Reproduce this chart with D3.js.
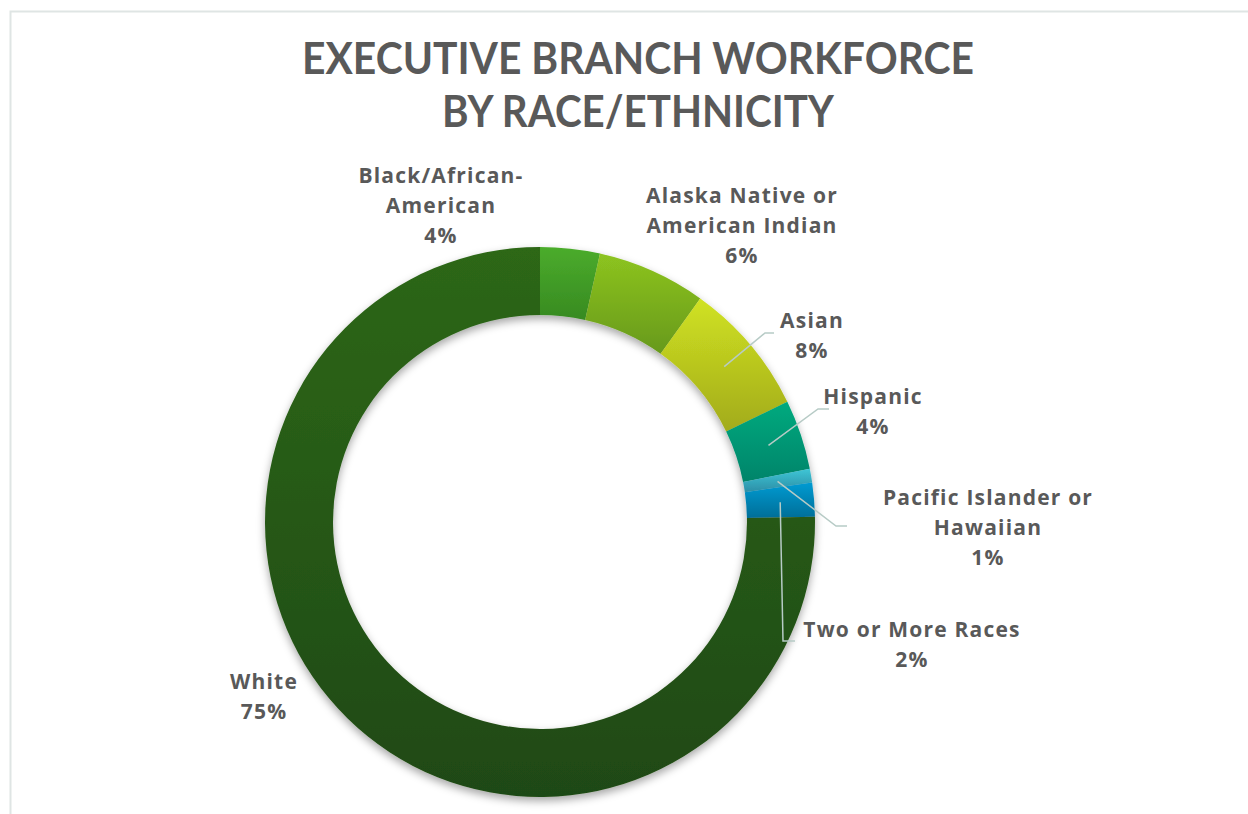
<!DOCTYPE html>
<html><head><meta charset="utf-8">
<script src="https://cdn.jsdelivr.net/npm/d3@7"></script>
<style>body{margin:0;background:#fff;overflow:hidden} svg{display:block}</style>
</head><body>
<script>
// ---- data ----
const categories = ["Black/African-American","Alaska Native or American Indian","Asian","Hispanic","Pacific Islander or Hawaiian","Two or More Races","White"];
const values = [3.5, 6.4, 7.9, 4.1, 0.8, 2.0, 75.3];
const labelLines = [["Black/African-","American"],["Alaska Native or","American Indian"],["Asian"],["Hispanic"],["Pacific Islander or","Hawaiian"],["Two or More Races"],["White"]];
const titleLines = ["EXECUTIVE BRANCH WORKFORCE","BY RACE/ETHNICITY"];

// ---- styles ----
const colorsTop    = ["#4bac2c","#8dc420","#d0e222","#00aa7e","#3ec6d6","#029bd2","#2d6719"];
const colorsBottom = ["#378a21","#67991b","#a2ab1b","#00846a","#2c8ea6","#056e98","#1f4912"];

// ---- layout ----
const W = 1248, H = 814;
const cx = 540, cy = 522, rOuter = 275, rInner = 207;
const labelAnchor = [[441,183],[742,203],[812,328],[873,404],[988,505],[912,637],[264,689]];
const leaderElbow = [null,null,[765,333],[818,409],[836,526],[783,641]];
const leaderEnd   = [null,null,[774,333],[829,409],[847,526],[795,641]];
const lineGap = 30;

const svg = d3.select("body").append("svg").attr("width", W).attr("height", H);
const defs = svg.append("defs");

const f = defs.append("filter").attr("id","shadow").attr("x","-20%").attr("y","-20%").attr("width","140%").attr("height","140%");
f.append("feDropShadow").attr("dx",0).attr("dy",4).attr("stdDeviation",4).attr("flood-color","#000").attr("flood-opacity",0.35);

categories.forEach((c,i)=>{
  const g = defs.append("linearGradient").attr("id","grad"+i).attr("x1",0).attr("y1",0).attr("x2",0).attr("y2",1);
  g.append("stop").attr("offset","0%").attr("stop-color",colorsTop[i]);
  g.append("stop").attr("offset","100%").attr("stop-color",colorsBottom[i]);
});

// frame
svg.append("rect").attr("x",10.5).attr("y",11.5).attr("width",1400).attr("height",1000)
  .attr("fill","none").attr("stroke","#dfe5e4").attr("stroke-width",2);

// title
const titleG = svg.append("g");
const titleY = [74, 127];
const titleW = [672, 392];
titleLines.forEach((t,i)=>{
  titleG.append("text").attr("x",638).attr("y",titleY[i]).attr("text-anchor","middle")
    .attr("font-family","Lato, 'Open Sans', sans-serif").attr("font-weight",700)
    .attr("font-size",43).attr("fill","#595959")
    .attr("textLength",titleW[i]).attr("lengthAdjust","spacingAndGlyphs")
    .text(t);
});

// donut
const pie = d3.pie().sort(null).value(d=>d);
const arcs = pie(values);
const arc = d3.arc().innerRadius(rInner).outerRadius(rOuter);
const chart = svg.append("g").attr("transform",`translate(${cx},${cy})`);
chart.append("g").attr("filter","url(#shadow)")
  .selectAll("path").data(arcs).join("path")
  .attr("d",arc)
  .attr("fill",(d,i)=>`url(#grad${i})`);

// leader lines
arcs.forEach((d,i)=>{
  if(!leaderElbow[i]) return;
  const c = arc.centroid(d);
  const pts = [[cx+c[0],cy+c[1]], leaderElbow[i], leaderEnd[i]];
  svg.append("path").attr("d", d3.line()(pts)).attr("fill","none")
    .attr("stroke","#b7cbc6").attr("stroke-width",1.5);
});

// labels
arcs.forEach((d,i)=>{
  const lines = labelLines[i].concat([Math.round(values[i]) + "%"]);
  const t = svg.append("text").attr("text-anchor","middle")
    .attr("font-family","'Open Sans', Lato, sans-serif").attr("font-weight",700)
    .attr("font-size",21).attr("letter-spacing",1.2).attr("fill","#595959");
  lines.forEach((l,j)=>{
    t.append("tspan").attr("x",labelAnchor[i][0]).attr("y",labelAnchor[i][1]+j*lineGap).text(l);
  });
});
</script>
</body></html>
